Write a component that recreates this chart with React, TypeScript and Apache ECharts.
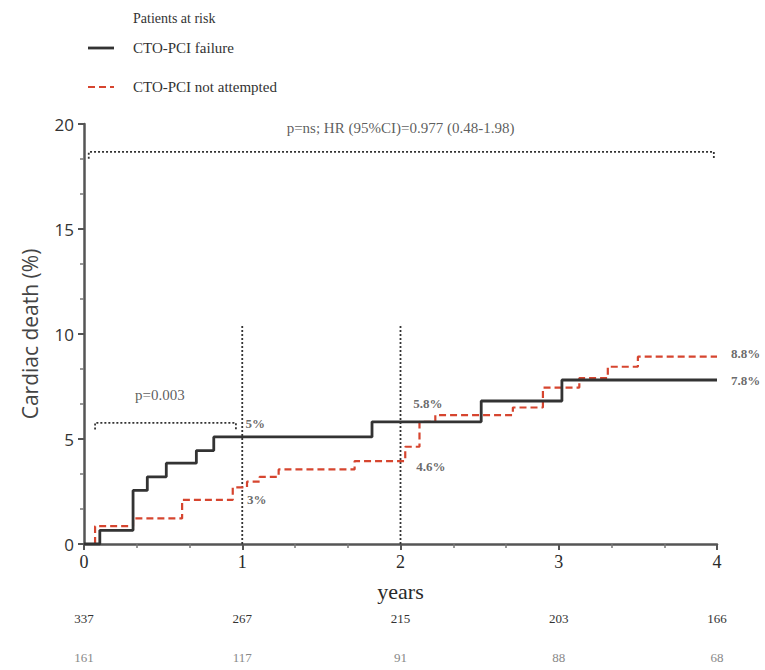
import React, { useEffect, useRef } from "react";
import * as echarts from "echarts";

const failureSteps: [number, number][] = [
  [0, 0], [0.1, 0.65], [0.31, 2.55], [0.4, 3.2], [0.52, 3.85], [0.71, 4.45],
  [0.82, 5.1], [1.82, 5.82], [2.51, 6.81], [3.02, 7.81], [4.0, 7.81],
];
const notAttemptedSteps: [number, number][] = [
  [0, 0], [0.07, 0.85], [0.31, 1.22], [0.62, 2.1], [0.94, 2.7], [1.03, 2.97],
  [1.11, 3.2], [1.23, 3.55], [1.71, 3.95], [2.03, 4.63], [2.12, 5.82],
  [2.22, 6.14], [2.71, 6.5], [2.9, 7.45], [3.13, 7.9], [3.31, 8.44],
  [3.5, 8.92], [4.0, 8.92],
];
const riskTimes = [0, 1, 2, 3, 4];
const riskFailure = [337, 267, 215, 203, 166];
const riskNotAttempted = [161, 117, 91, 88, 68];
const xTicks = [0, 1, 2, 3, 4];
const yTicks = [0, 5, 10, 15, 20];

const annotations = [
  { t: 1.02, y: 5.75, text: "5%" },
  { t: 1.03, y: 2.1, text: "3%" },
  { t: 2.08, y: 6.7, text: "5.8%" },
  { t: 2.1, y: 3.7, text: "4.6%" },
];
const endLabels = [
  { t: 4.0, y: 9.05, text: "8.8%" },
  { t: 4.0, y: 7.8, text: "7.8%" },
];

const SERIF = "'Liberation Serif', 'DejaVu Serif', serif";
const SANS = "'Open Sans', 'DejaVu Sans', sans-serif";
const RED = "#d6452f";
const DARK = "#2a2a2a";

export default function App() {
  const ref = useRef<HTMLDivElement>(null);
  useEffect(() => {
    if (!ref.current) return;
    const chart = echarts.init(ref.current, undefined, { renderer: "svg" });
    const dotted = { color: "#333", width: 1.8, type: [2, 2] as any };
    const pctLabel = {
      show: true, position: "right", formatter: (p: any) => p.name,
      fontFamily: SERIF, fontSize: 13, fontWeight: "bold", color: "#444",
    };
    chart.setOption({
      animation: false,
      grid: { left: 84, top: 124, width: 633, height: 420 },
      xAxis: {
        type: "value",
        min: 0,
        max: 4,
        interval: 1,
        name: "years",
        nameLocation: "middle",
        nameGap: 36,
        nameTextStyle: { fontFamily: SERIF, fontSize: 22, color: DARK },
        axisLine: { lineStyle: { color: "#555", width: 2.5 } },
        axisTick: { show: true, length: 6, lineStyle: { color: "#555", width: 2 } },
        minorTick: { show: true, splitNumber: 3, length: 4, lineStyle: { color: "#777", width: 1.5 } },
        axisLabel: {
          fontFamily: SERIF, fontSize: 18, color: DARK, margin: 9,
          formatter: (v: number) => (xTicks.includes(v) ? String(v) : ""),
        },
        splitLine: { show: false },
      },
      yAxis: {
        type: "value",
        min: 0,
        max: 20,
        interval: 5,
        name: "Cardiac death (%)",
        nameLocation: "middle",
        nameGap: 44,
        nameTextStyle: { fontFamily: SANS, fontSize: 21, color: "#444" },
        axisLine: { show: true, lineStyle: { color: "#555", width: 2.5 } },
        axisTick: { show: true, length: 6, lineStyle: { color: "#555", width: 2 } },
        minorTick: { show: true, splitNumber: 3, length: 4, lineStyle: { color: "#777", width: 1.5 } },
        axisLabel: {
          fontFamily: SANS, fontSize: 17, color: "#333", margin: 10,
          formatter: (v: number) => (yTicks.includes(v) ? String(v) : ""),
        },
        splitLine: { show: false },
      },
      series: [
        {
          type: "line", name: "CTO-PCI not attempted", data: notAttemptedSteps, step: "end",
          symbol: "none", lineStyle: { color: RED, width: 2.2, type: [7, 4] }, z: 3,
        },
        {
          type: "line", name: "CTO-PCI failure", data: failureSteps, step: "end",
          symbol: "none", lineStyle: { color: "#333", width: 2.8 }, z: 4,
        },
        { type: "line", data: [[1, 0], [1, 10.4]], symbol: "none", lineStyle: dotted, z: 2 },
        { type: "line", data: [[2, 0], [2, 10.4]], symbol: "none", lineStyle: dotted, z: 2 },
        {
          type: "line", data: [[0.03, 18.35], [0.03, 18.67], [3.98, 18.67], [3.98, 18.35]],
          symbol: "none", lineStyle: dotted, z: 2,
        },
        {
          type: "line", data: [[0.07, 5.45], [0.07, 5.77], [0.96, 5.77], [0.96, 5.45]],
          symbol: "none", lineStyle: dotted, z: 2,
        },
        {
          type: "scatter", symbolSize: 0, z: 5, clip: false,
          data: annotations.map((a) => ({ value: [a.t, a.y], name: a.text })),
          label: { ...pctLabel, distance: 0 },
        },
        {
          type: "scatter", symbolSize: 0, z: 5, clip: false,
          data: endLabels.map((a) => ({ value: [a.t, a.y], name: a.text })),
          label: { ...pctLabel, distance: 14 },
        },
        {
          type: "scatter", symbolSize: 0, z: 5,
          data: [
            { value: [2.0, 19.8], name: "p=ns; HR (95%CI)=0.977 (0.48-1.98)" },
            { value: [0.48, 7.1], name: "p=0.003" },
          ],
          label: {
            show: true, position: "inside", formatter: (p: any) => p.name,
            fontFamily: SERIF, fontSize: 15, color: "#333",
          },
        },
      ],
    });

    const graphic: any[] = [];
    const rowY = [618, 657];
    const rows = [riskFailure, riskNotAttempted];
    const rowColors = ["#333", "#888"];
    rows.forEach((row, r) => {
      row.forEach((n, i) => {
        const px = chart.convertToPixel({ xAxisIndex: 0 }, riskTimes[i]) as number;
        graphic.push({
          type: "text", x: px, y: rowY[r],
          style: {
            text: String(n), fontFamily: SERIF, fontSize: 13, fill: rowColors[r],
            align: "center", verticalAlign: "middle",
          },
        });
      });
    });
    graphic.push(
      { type: "text", x: 133, y: 18, style: { text: "Patients at risk", fontFamily: SERIF, fontSize: 14, fill: "#333", verticalAlign: "middle" } },
      { type: "line", shape: { x1: 88, y1: 48, x2: 114, y2: 48 }, style: { stroke: "#333", lineWidth: 2.8 } },
      { type: "text", x: 133, y: 48, style: { text: "CTO-PCI failure", fontFamily: SERIF, fontSize: 15, fill: "#333", verticalAlign: "middle" } },
      { type: "line", shape: { x1: 88, y1: 87, x2: 114, y2: 87 }, style: { stroke: RED, lineWidth: 2.2, lineDash: [7, 4] } },
      { type: "text", x: 133, y: 87, style: { text: "CTO-PCI not attempted", fontFamily: SERIF, fontSize: 15, fill: "#333", verticalAlign: "middle" } },
    );
    chart.setOption({ graphic });

    return () => chart.dispose();
  }, []);
  return (
    <div
      ref={ref}
      style={{ position: "fixed", left: 0, top: 0, width: 765, height: 670, background: "#fff" }}
    />
  );
}
